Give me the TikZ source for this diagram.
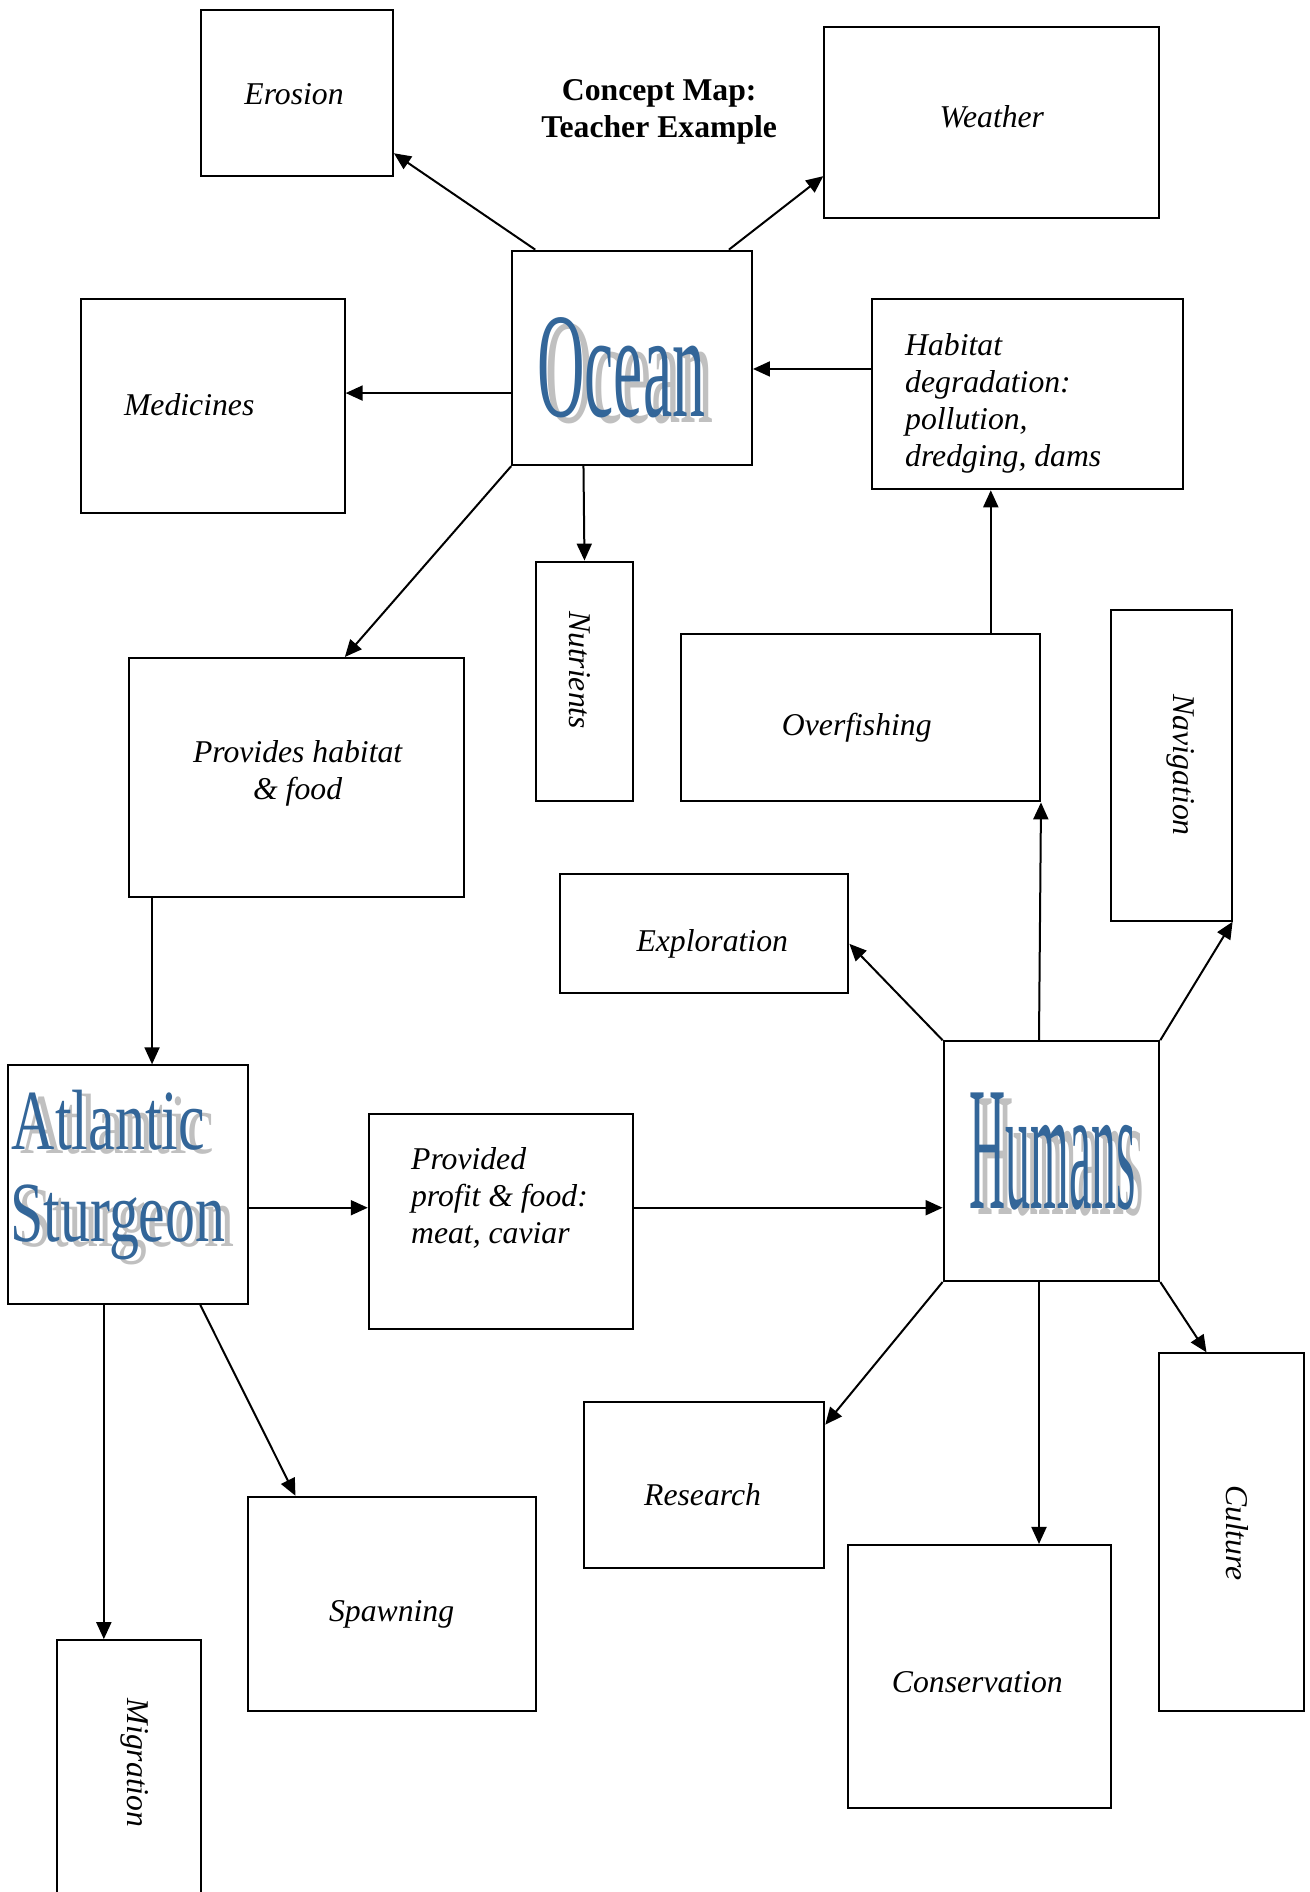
\documentclass[tikz,border=0pt]{standalone}
\usepackage{fontspec}
\setmainfont{Liberation Serif}
\usetikzlibrary{arrows.meta,calc,fit}
\definecolor{wablue}{RGB}{51,102,153}
\definecolor{wagray}{RGB}{192,192,192}
\tikzset{
  box/.style={draw, line width=2pt, inner sep=0pt, rectangle},
  lbl/.style={font=\fontsize{31.7}{37}\selectfont\itshape, inner sep=0pt},
  ttl/.style={font=\fontsize{31.7}{37}\selectfont\bfseries, inner sep=0pt, align=center},
  arr/.style={line width=2pt, -{Triangle[length=17pt,width=15pt]}},
  wab/.style={inner sep=0pt, anchor=base west, text=wablue},
  wag/.style={inner sep=0pt, anchor=base west, text=wagray},
}
\begin{document}
\begin{tikzpicture}[x=1.2052pt,y=-1.2052pt]
\useasboundingbox (0,0) rectangle (1087,1570);
\fill[white] (0,0) rectangle (1087,1570);
% boxes
\node[box, fit={(167,8) (326,146)}] (erosion) {};
\node[box, fit={(684,22) (962,181)}] (weather) {};
\node[box, fit={(425,208) (624,386)}] (ocean) {};
\node[box, fit={(67,248) (286,426)}] (medicines) {};
\node[box, fit={(724,248) (982,406)}] (habitat) {};
\node[box, fit={(445,466) (525,665)}] (nutrients) {};
\node[box, fit={(107,546) (385,744)}] (provides) {};
\node[box, fit={(565,526) (863,665)}] (overfishing) {};
\node[box, fit={(922,506) (1022,764)}] (navigation) {};
\node[box, fit={(465,725) (704,824)}] (exploration) {};
\node[box, fit={(7,884) (206,1082)}] (sturgeon) {};
\node[box, fit={(306,924) (525,1103)}] (profit) {};
\node[box, fit={(783,864) (962,1063)}] (humans) {};
\node[box, fit={(485,1163) (684,1301)}] (research) {};
\node[box, fit={(206,1242) (445,1420)}] (spawning) {};
\node[box, fit={(704,1282) (922,1500)}] (conservation) {};
\node[box, fit={(962,1123) (1082,1420)}] (culture) {};
\node[box, fit={(47,1361) (167,1600)}] (migration) {};
% title
\node[ttl] (title) at (547,92.5) {Concept Map:\\Teacher Example};
% labels
\node[lbl] (terosion) at (244,78.5) {Erosion};
\node[lbl] (tweather) at (823,97) {Weather};
\node[lbl] (tmedicines) at (157,336) {Medicines};
\node[lbl, anchor=west, align=left] (thabitat) at (751,334.5) {Habitat\\degradation:\\pollution,\\dredging, dams};
\node[lbl, rotate=-90] (tnutrients) at (481,556) {Nutrients};
\node[lbl, align=center] (tprovides) at (247,642) {Provides habitat\\\& food};
\node[lbl] (toverfishing) at (711,604) {Overfishing};
\node[lbl, rotate=-90] (tnavigation) at (980,635) {Navigation};
\node[lbl] (texploration) at (591,783) {Exploration};
\node[lbl, anchor=west, align=left] (tprofit) at (341,994) {Provided\\profit \& food:\\meat, caviar};
\node[lbl] (tresearch) at (583,1240.5) {Research};
\node[lbl] (tspawning) at (325,1340) {Spawning};
\node[lbl] (tconservation) at (811,1395.5) {Conservation};
\node[lbl, rotate=-90] (tculture) at (1027,1272) {Culture};
\node[lbl, rotate=-90] (tmigration) at (112,1463) {Migration};
% word art
\node[wag] (oceans) at (452.6,351) {\fontsize{149.5}{149.5}\selectfont\scalebox{0.44}[1]{Ocean}};
\node[wab] (oceant) at (445.6,346) {\fontsize{149.5}{149.5}\selectfont\scalebox{0.44}[1]{Ocean}};
\node[wag] (stur1s) at (17,957.5) {\fontsize{85.6}{85.6}\selectfont\scalebox{0.70}[1]{Atlantic}};
\node[wab] (stur1t) at (9.7,953.5) {\fontsize{85.6}{85.6}\selectfont\scalebox{0.70}[1]{Atlantic}};
\node[wag] (stur2s) at (15.6,1034) {\fontsize{85.6}{85.6}\selectfont\scalebox{0.70}[1]{Sturgeon}};
\node[wab] (stur2t) at (8.3,1030) {\fontsize{85.6}{85.6}\selectfont\scalebox{0.70}[1]{Sturgeon}};
\node[wag] (humanss) at (811,1008) {\fontsize{176.6}{176.6}\selectfont\scalebox{0.283}[1]{Humans}};
\node[wab] (humanst) at (804,1002.6) {\fontsize{176.6}{176.6}\selectfont\scalebox{0.283}[1]{Humans}};
% connectors
\draw[arr] ($(ocean.north west)+(20,0)$) -- ($(erosion.north east)+(0,120)$);
\draw[arr] ($(ocean.north east)+(-20,0)$) -- ($(weather.north west)+(0,125)$);
\draw[arr] ($(ocean.north west)+(0,119)$) -- ($(medicines.north east)+(0,79)$);
\draw[arr] ($(habitat.north west)+(0,59)$) -- ($(ocean.north east)+(0,99)$);
\draw[arr] ($(ocean.south west)+(60,0)$) -- (nutrients.north);
\draw[arr] (ocean.south west) -- ($(provides.north west)+(180,0)$);
\draw[arr] ($(provides.south west)+(20,0)$) -- ($(sturgeon.north west)+(120,0)$);
\draw[arr] ($(overfishing.north west)+(258,0)$) -- ($(habitat.south west)+(99,0)$);
\draw[arr] ($(humans.north west)+(80,0)$) -- (overfishing.south east);
\draw[arr] (humans.north west) -- ($(exploration.north east)+(0,59)$);
\draw[arr] (humans.north east) -- (navigation.south east);
\draw[arr] ($(sturgeon.north east)+(0,119)$) -- ($(profit.north west)+(0,79)$);
\draw[arr] ($(profit.north east)+(0,79)$) -- ($(humans.north west)+(0,139)$);
\draw[arr] (humans.south west) -- ($(research.north east)+(0,20)$);
\draw[arr] ($(humans.south west)+(80,0)$) -- ($(conservation.north west)+(159,0)$);
\draw[arr] (humans.south east) -- ($(culture.north west)+(40,0)$);
\draw[arr] ($(sturgeon.south west)+(80,0)$) -- ($(migration.north west)+(40,0)$);
\draw[arr] ($(sturgeon.south west)+(160,0)$) -- ($(spawning.north west)+(40,0)$);
\end{tikzpicture}
\end{document}
